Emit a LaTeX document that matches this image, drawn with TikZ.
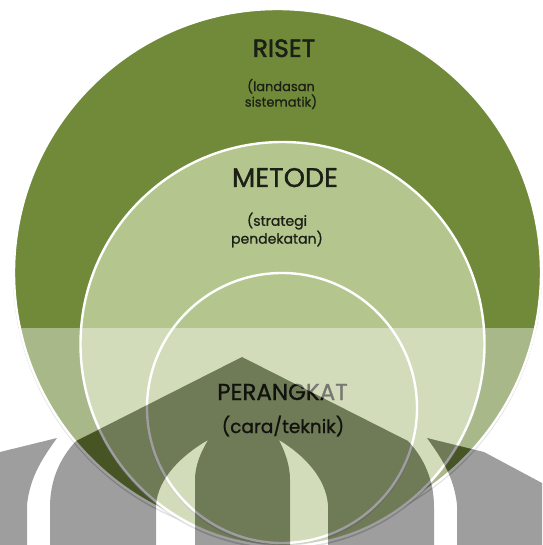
\documentclass[tikz,border=0pt]{standalone}
\usepackage{fontspec}
\setmainfont{Poppins}
\definecolor{outergreen}{HTML}{718A3A}
\definecolor{lightgreen}{HTML}{B4C68E}
\definecolor{txt}{HTML}{1B1F15}
\newcommand\mywatermark{%
  (0,452) -- (57,438) .. controls (45,455) and (30,475) .. (27,505) -- (27,545) -- (0,545) -- cycle
  (50,545) -- (50,507) .. controls (50,480) and (60,458) .. (76,441) -- (242,357) -- (408,441) .. controls (424,458) and (434,480) .. (434,507) -- (434,545) -- cycle
  (484,452) -- (427,438) .. controls (439,455) and (454,475) .. (457,505) -- (457,545) -- (542,545) -- (542,483) -- cycle
  (156,545) -- (156,505) .. controls (158,478) and (182,455) .. (208,440) .. controls (201,452) and (195,465) .. (195,480) -- (195,545) -- cycle
  (328,545) -- (328,505) .. controls (326,478) and (304,455) .. (279,440) .. controls (285,452) and (290,465) .. (290,480) -- (290,545) -- cycle}
\begin{document}
\begin{tikzpicture}[x=1pt,y=-1pt,
  ring/.style={circle, draw=white, line width=2.4pt, inner sep=0pt},
  shade ring/.style={circle, draw=black!40, line width=2pt, inner sep=0pt, opacity=0.45},
  title/.style={text=txt, anchor=base, inner sep=0pt},
  sub/.style={text=txt, align=center, inner sep=0pt}]
\useasboundingbox (0,0) rectangle (542,545);
\clip (0,0) rectangle (542,545);
% circles
\node[shade ring, minimum size=527pt] (risetshadow) at (277.5,274.5) {};
\node[ring, fill=outergreen, minimum size=527pt] (riset) at (277.5,272.5) {};
\node[shade ring, minimum size=404pt] (metodeshadow) at (282.5,346) {};
\node[ring, fill=lightgreen, minimum size=404pt] (metode) at (282.5,344) {};
\node[shade ring, minimum size=270pt] (perangkatshadow) at (282,410) {};
\node[ring, fill=lightgreen, minimum size=270pt] (perangkat) at (282,408) {};
% texts
\node[title, font=\fontsize{25}{25}\selectfont\addfontfeature{FakeBold=2}] (t1) at (284,57) {RISET};
\node[sub, font=\fontsize{13}{13.5}\selectfont\addfontfeature{FakeBold=0.8}] (s1) at (281,94) {(landasan\\sistematik)};
\node[title, font=\fontsize{27}{27}\selectfont\addfontfeature{FakeBold=1.2}] (t2) at (285,187) {METODE};
\node[sub, font=\fontsize{14}{16}\selectfont\addfontfeature{FakeBold=0.8}] (s2) at (277,230) {(strategi\\pendekatan)};
\node[title, font=\fontsize{23}{23}\selectfont\addfontfeature{FakeBold=1}] (t3) at (282.5,400) {PERANGKAT};
\node[title, font=\fontsize{18.5}{18.5}\selectfont\addfontfeature{FakeBold=1}] (s3) at (283,433) {(cara/teknik)};
% watermark band and logo
\fill[white, opacity=0.4, even odd rule] (0,328) rectangle (542,545) \mywatermark;
\fill[black, opacity=0.38, even odd rule] \mywatermark;
\end{tikzpicture}
\end{document}
